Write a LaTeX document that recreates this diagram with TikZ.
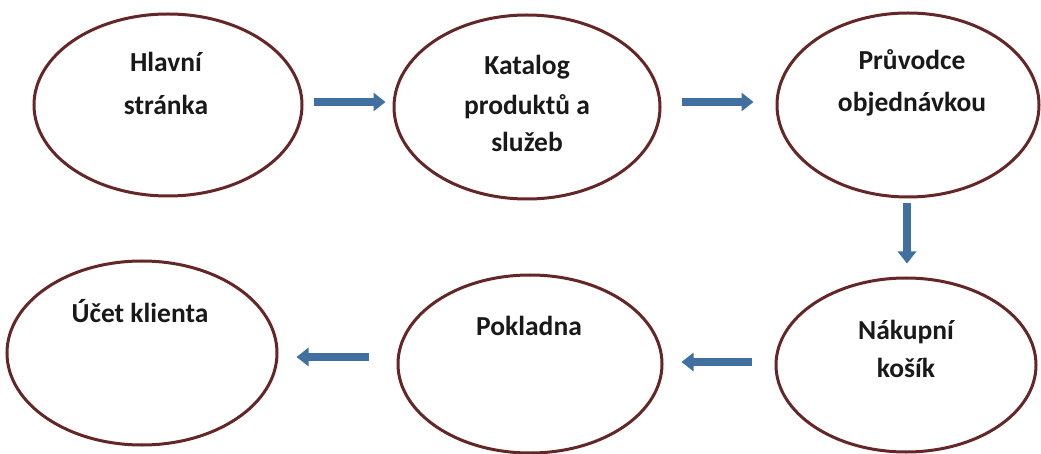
\documentclass[tikz,border=0pt]{standalone}
\usepackage{fontspec}
\newfontfamily\lblfont{Carlito}
\usetikzlibrary{arrows.meta,shapes.geometric}
\definecolor{ellred}{RGB}{100,38,38}
\definecolor{arrblue}{RGB}{65,111,160}
\tikzset{
  ell/.style={draw=ellred, line width=3pt, ellipse, inner sep=0pt},
  lbl/.style={anchor=base, inner sep=0pt, font=\lblfont\bfseries\fontsize{27.5}{33}\selectfont, text=black!90},
  barrow/.style={draw=arrblue, line width=8pt, -{Triangle[width=18pt,length=12pt]}}
}
\begin{document}
\begin{tikzpicture}[x=1pt,y=-1pt]
\fill[white] (0,0) rectangle (1041,454);
\useasboundingbox (0,0) rectangle (1041,454);
% ellipses
\node[ell, minimum width=268pt, minimum height=182pt] (e1) at (168,105) {};
\node[ell, minimum width=266pt, minimum height=184pt] (e2) at (527,107) {};
\node[ell, minimum width=262pt, minimum height=184pt] (e3) at (908,105) {};
\node[ell, minimum width=270pt, minimum height=184pt] (e4) at (142,353) {};
\node[ell, minimum width=264pt, minimum height=178pt] (e5) at (530,364) {};
\node[ell, minimum width=260pt, minimum height=174pt] (e6) at (906,365) {};
% labels
\node[lbl] (t1a) at (166,72) {Hlavní};
\node[lbl] (t1b) at (166,115) {stránka};
\node[lbl] (t2a) at (527,75) {Katalog};
\node[lbl] (t2b) at (527,115) {produktů a};
\node[lbl] (t2c) at (527,152) {služeb};
\node[lbl] (t3a) at (912,70) {Průvodce};
\node[lbl] (t3b) at (912,112) {objednávkou};
\node[lbl] (t4a) at (140,322) {Účet klienta};
\node[lbl] (t5a) at (529,335) {Pokladna};
\node[lbl] (t6a) at (906,339) {Nákupní};
\node[lbl] (t6b) at (906,377) {košík};
% arrows
\draw[barrow] ([shift={(10,-3)}]e1.east) -- ([shift={(-7,-5)}]e2.west);
\draw[barrow] ([shift={(20,-5)}]e2.east) -- ([shift={(-22,-3)}]e3.west);
\draw[barrow] ([shift={(-1,5)}]e3.south) -- ([shift={(1,-13)}]e6.north);
\draw[barrow] ([shift={(-23,-3)}]e6.west) -- ([shift={(18,-2)}]e5.east);
\draw[barrow] ([shift={(-28,-7)}]e5.west) -- ([shift={(18,4)}]e4.east);
\end{tikzpicture}
\end{document}
